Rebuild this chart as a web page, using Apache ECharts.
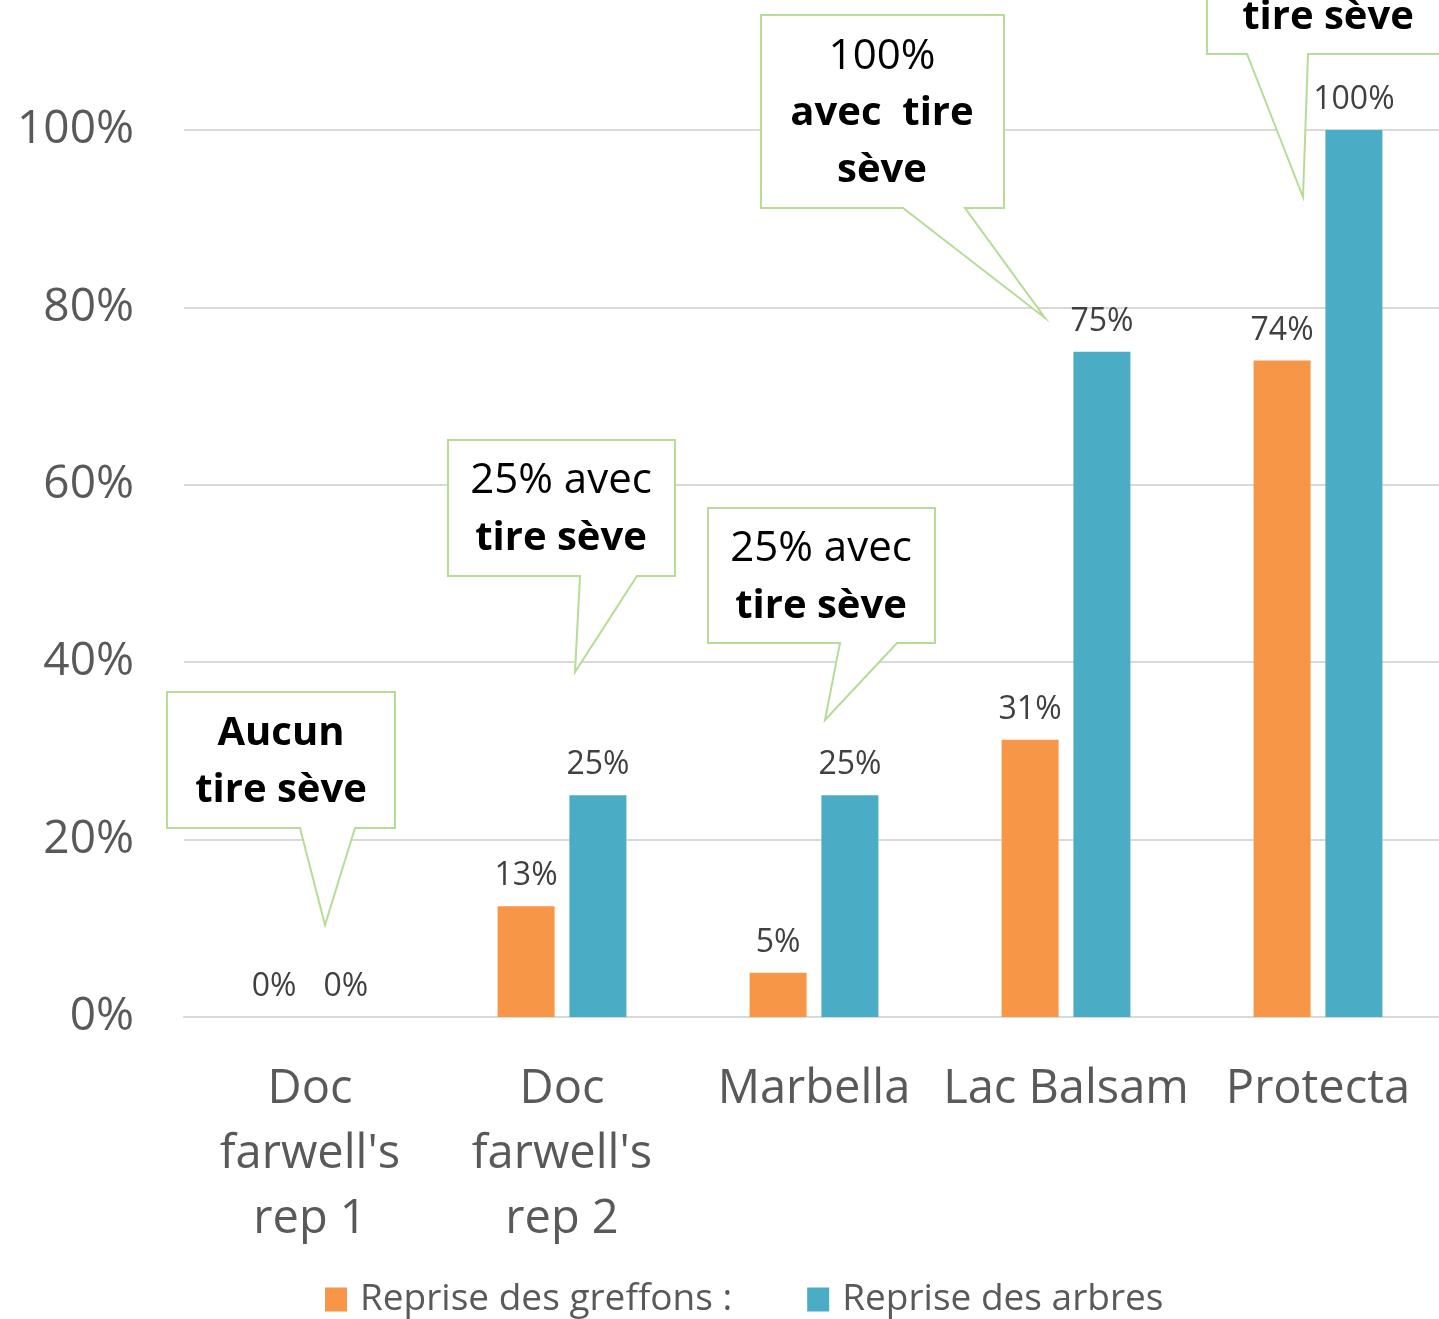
<!DOCTYPE html>
<html>
<head>
<meta charset="utf-8">
<script src="https://cdn.jsdelivr.net/npm/echarts@6/dist/echarts.min.js"></script>
<style>
  html, body { margin: 0; padding: 0; background: #fff; }
  #chart { width: 1439px; height: 1319px; }
</style>
</head>
<body>
<div id="chart"></div>
<script>
// données
const categories = ["Doc\nfarwell's\nrep 1", "Doc\nfarwell's\nrep 2", 'Marbella', 'Lac Balsam', 'Protecta'];
const greffons = [0, 12.5, 5, 31.25, 74];
const arbres = [0, 25, 25, 75, 100];
const yTicks = [0, 20, 40, 60, 80, 100];

const FONT = '"Open Sans", "DejaVu Sans", sans-serif';
const ORANGE = '#f79646';
const BLUE = '#4bacc6';
const GREEN = '#b6dc96';

// bulles d'annotation (texte riche : n = normal, b = gras)
const bulles = [
  { text: '{b|Aucun}\n{b|tire sève}', box: [167, 692, 395, 828], tail: [300, 355, 325, 925], cx: 281, cy: 762 },
  { text: '{n|25% avec}\n{b|tire sève}', box: [448, 440, 675, 576], tail: [580, 637, 575, 672], cx: 561, cy: 510 },
  { text: '{n|25% avec}\n{b|tire sève}', box: [708, 508, 935, 643], tail: [840, 897, 825, 720], cx: 821, cy: 578 },
  { text: '{n|100%}\n{b|avec  tire}\n{b|sève}', box: [761, 15, 1004, 208], tail: [903, 965, 1045, 318], cx: 882, cy: 114 },
  { text: '{b|tire sève}', box: [1207, -60, 1460, 54], tail: [1247, 1308, 1303, 197], cx: 1328, cy: 18 }
];

function bulleGraphics() {
  const out = [];
  bulles.forEach(c => {
    const [x1, y1, x2, y2] = c.box;
    const [t1, t2, tx, ty] = c.tail;
    out.push({
      type: 'polygon',
      z: 100,
      shape: { points: [[x1, y1], [x2, y1], [x2, y2], [t2, y2], [tx, ty], [t1, y2], [x1, y2]] },
      style: { fill: '#fff', stroke: GREEN, lineWidth: 2 }
    });
    out.push({
      type: 'text',
      z: 101,
      x: c.cx,
      y: c.cy,
      style: {
        text: c.text,
        align: 'center',
        verticalAlign: 'middle',
        rich: {
          n: { fontFamily: FONT, fontSize: 42, color: '#000', lineHeight: 57 },
          b: { fontFamily: FONT, fontSize: 40, fontWeight: 'bold', color: '#000', lineHeight: 57 }
        }
      }
    });
  });
  return out;
}

const chart = echarts.init(document.getElementById('chart'));

const barLabel = {
  show: true,
  position: 'top',
  distance: 14,
  fontFamily: FONT,
  fontSize: 32,
  color: '#404040',
  formatter: p => Math.round(p.value) + '%'
};

chart.setOption({
  backgroundColor: '#fff',
  animation: false,
  textStyle: { fontFamily: FONT },
  grid: { left: 184, top: 130, width: 1260, height: 887, outerBoundsMode: 'none' },
  legend: {
    left: 325,
    top: 1281,
    padding: 0,
    itemWidth: 22,
    itemHeight: 24,
    itemGap: 75,
    icon: 'rect',
    textStyle: { fontFamily: FONT, fontSize: 37, color: '#595959', padding: [0, 0, 0, 8] },
    data: ['Reprise des greffons :', 'Reprise des arbres']
  },
  xAxis: {
    type: 'category',
    data: categories,
    axisLine: { lineStyle: { color: '#d9d9d9', width: 2 } },
    axisTick: { show: false },
    axisLabel: {
      interval: 0,
      margin: 40,
      fontFamily: FONT,
      fontSize: 47,
      lineHeight: 65,
      color: '#595959'
    }
  },
  yAxis: {
    type: 'value',
    min: yTicks[0],
    max: yTicks[yTicks.length - 1],
    interval: 20,
    axisLine: { show: false },
    axisTick: { show: false },
    splitLine: { lineStyle: { color: '#d9d9d9', width: 2 } },
    axisLabel: {
      margin: 50,
      fontFamily: FONT,
      fontSize: 46,
      color: '#595959',
      formatter: '{value}%'
    }
  },
  series: [
    {
      name: 'Reprise des greffons :',
      type: 'bar',
      data: greffons,
      barWidth: 57,
      barGap: '26%',
      itemStyle: { color: ORANGE },
      label: barLabel
    },
    {
      name: 'Reprise des arbres',
      type: 'bar',
      data: arbres,
      barWidth: 57,
      barGap: '26%',
      itemStyle: { color: BLUE },
      label: barLabel
    }
  ],
  graphic: bulleGraphics()
});

window.addEventListener('resize', () => chart.resize());
</script>
</body>
</html>
